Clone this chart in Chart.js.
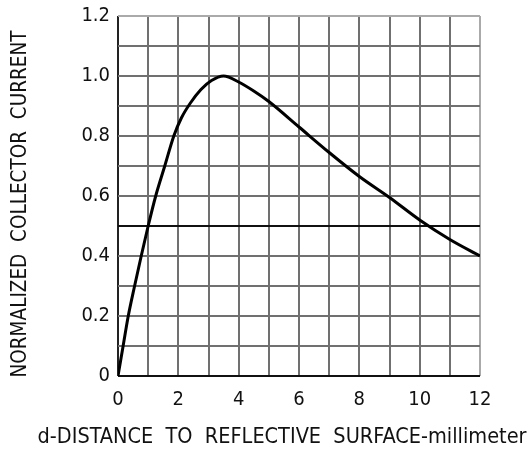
<!DOCTYPE html>
<html>
<head>
<meta charset="utf-8">
<script src="https://cdn.jsdelivr.net/npm/chart.js@4/dist/chart.umd.min.js"></script>
<style>
html,body{margin:0;padding:0;background:#fff;}
#c{display:block;}
</style>
</head>
<body>
<canvas id="c" width="530" height="452"></canvas>
<script>
const distanceMm = [0, 0.17, 0.34, 0.55, 0.77, 1.0, 1.25, 1.55, 1.85, 2.1, 2.4, 2.75, 3.1, 3.5, 4.0, 4.5, 5, 6, 7, 8, 9, 10, 11, 12];
const collectorCurrent = [0, 0.1, 0.2, 0.3, 0.4, 0.5, 0.6, 0.7, 0.8, 0.86, 0.91, 0.955, 0.985, 1.0, 0.98, 0.95, 0.915, 0.83, 0.745, 0.665, 0.595, 0.52, 0.455, 0.40];
const xTitle = 'd-DISTANCE  TO  REFLECTIVE  SURFACE-millimeter';
const yTitle = 'NORMALIZED  COLLECTOR  CURRENT';
const FONT = '"DejaVu Sans Condensed", "DejaVu Sans", sans-serif';

const points = distanceMm.map((x, i) => ({x: x, y: collectorCurrent[i]}));

const titlePlugin = {
  id: 'axisTitles',
  afterDraw(chart) {
    const ctx = chart.ctx;
    const a = chart.chartArea;
    ctx.save();
    ctx.fillStyle = '#111';
    ctx.textAlign = 'center';
    ctx.textBaseline = 'alphabetic';
    ctx.font = '21.5px ' + FONT;
    ctx.fillText(xTitle, (a.left + a.right) / 2 - 17, chart.height - 9);
    ctx.font = '20.5px ' + FONT;
    ctx.translate(26, (a.top + a.bottom) / 2 + 8);
    ctx.rotate(-Math.PI / 2);
    ctx.fillText(yTitle, 0, 0);
    ctx.restore();
  }
};

new Chart(document.getElementById('c'), {
  type: 'scatter',
  data: {
    datasets: [{
      data: points,
      showLine: true,
      borderColor: '#000',
      borderWidth: 3,
      pointRadius: 0,
      cubicInterpolationMode: 'monotone',
      fill: false
    }]
  },
  options: {
    responsive: false,
    animation: false,
    devicePixelRatio: 1,
    layout: {padding: {top: 13, right: 50, left: 0, bottom: 0}},
    plugins: {legend: {display: false}, tooltip: {enabled: false}},
    scales: {
      x: {
        type: 'linear',
        min: 0, max: 12,
        afterFit(s) { s.height = 76; },
        border: {display: false},
        grid: {
          drawTicks: false,
          lineWidth: 2,
          color: (c) => c.tick.value === 0 ? '#222' : (c.tick.value === 12 ? '#aaa' : '#707070')
        },
        ticks: {
          stepSize: 1,
          autoSkip: false,
          maxRotation: 0,
          padding: 12,
          color: '#111',
          font: {family: FONT, size: 20},
          callback: (v) => (Math.round(v) % 2 === 0 ? String(v) : '')
        }
      },
      y: {
        type: 'linear',
        min: 0, max: 1.2,
        afterFit(s) { s.width = 118; },
        border: {display: false},
        grid: {
          drawTicks: false,
          lineWidth: 2,
          color: (c) => {
            const v = Math.round(c.tick.value * 10);
            if (v === 0 || v === 5) return '#111';
            if (v === 12) return '#aaa';
            return '#707070';
          }
        },
        ticks: {
          stepSize: 0.1,
          autoSkip: false,
          padding: 8,
          color: '#111',
          font: {family: FONT, size: 20, lineHeight: 0.8},
          callback: (v) => {
            const k = Math.round(v * 10);
            if (k % 2 !== 0) return '';
            return k === 0 ? '0' : (k / 10).toFixed(1);
          }
        }
      }
    }
  },
  plugins: [titlePlugin]
});
</script>
</body>
</html>
